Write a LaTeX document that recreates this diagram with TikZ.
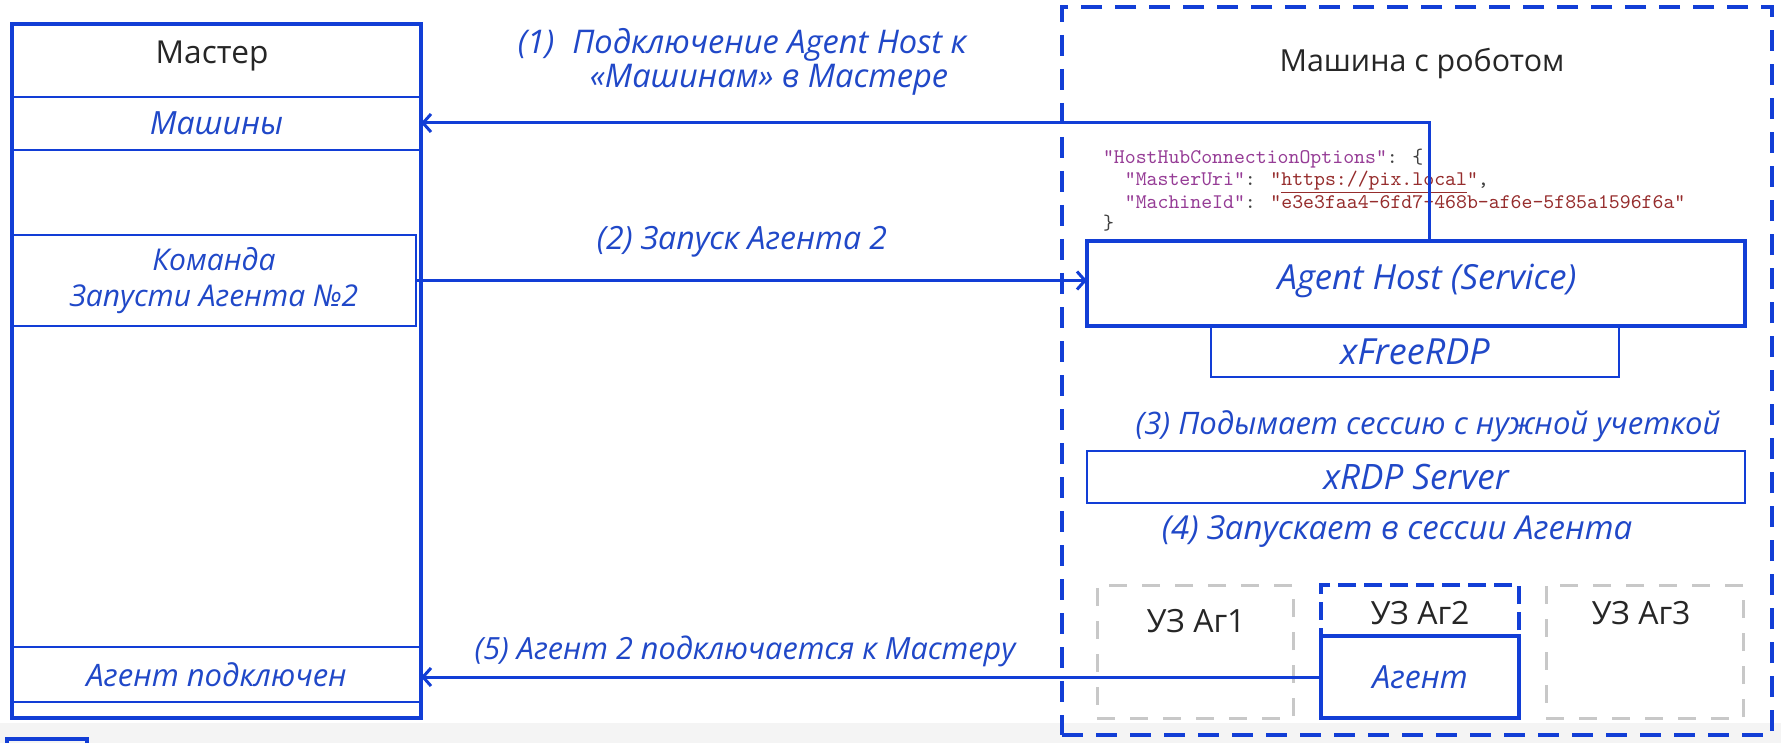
\documentclass[tikz,border=0pt]{standalone}
\usepackage{fontspec}
\setmainfont{Open Sans}
\usetikzlibrary{arrows.meta}
\definecolor{mblue}{RGB}{18,62,214}
\definecolor{tblue}{RGB}{32,72,200}
\definecolor{lgray}{RGB}{200,200,200}
\definecolor{jkey}{RGB}{150,60,150}
\definecolor{jval}{RGB}{150,45,45}
\definecolor{stripc}{RGB}{244,244,244}
\newcommand\fsz[1]{\fontsize{#1}{1.2\dimexpr#1pt\relax}\selectfont}
\tikzset{
 thickbox/.style={draw=mblue, line width=1.8pt},
 thinbox/.style={draw=mblue, line width=0.75pt},
 gdash/.style={draw=lgray, line width=1.5pt, dash pattern=on 9pt off 7.5pt},
 bdash/.style={draw=mblue, line width=1.8pt, dash pattern=on 10.5pt off 6.5pt},
 sdash/.style={draw=mblue, line width=2pt, dash pattern=on 9pt off 4pt},
 lbl/.style={text=tblue, font=\fsz{15.5}\itshape},
 blk/.style={text=black!85, font=\fsz{15.5}},
 conn/.style={draw=mblue, line width=1.5pt, -{Straight Barb[length=4pt,width=9pt,line width=1.5pt]}},
}
\begin{document}
\begin{tikzpicture}[x=0.5pt,y=-0.5pt, every node/.style={inner sep=0pt, outer sep=0pt}]
\useasboundingbox (0,0) rectangle (1781,743);
\fill[white] (0,0) rectangle (1781,743);
\fill[stripc] (0,723) rectangle (1781,743);
\draw[mblue, line width=1.8pt] (7,745) -- (7,739) -- (87,739) -- (87,745);

% Master
\node[thinbox, lbl, font=\fsz{16}\itshape, minimum width=204.5pt, minimum height=26.5pt] (mash) at (216.5,123.5) {Машины};
\node[thinbox, lbl, font=\fsz{15}\itshape, align=center, minimum width=202pt, minimum height=45.5pt] (kom) at (214,280.5) {Команда\\Запусти Агента №2};
\node[thinbox, lbl, minimum width=204.5pt, minimum height=27.5pt] (conn5) at (216.5,674.5) {Агент подключен};
\node[thickbox, minimum width=204.5pt, minimum height=347pt] (master) at (216.5,371) {};
\node[blk, font=\fsz{15.8}] (mtitle) at (212,56) {Мастер};

% Robot machine
\node[bdash, minimum width=355pt, minimum height=364pt] (robot) at (1417,371) {};
\node[blk, font=\fsz{15.2}] (rtitle) at (1422,64) {Машина с роботом};
\node[anchor=west, align=left, font=\fontsize{10.4}{10.6}\selectfont\ttfamily, text=black!75] (json) at (1103,190.5) {\textcolor{jkey}{"HostHubConnectionOptions"}: \{\\
\phantom{xx}\textcolor{jkey}{"MasterUri"}: \textcolor{jval}{"\underline{https://pix.local}"},\\
\phantom{xx}\textcolor{jkey}{"MachineId"}: \textcolor{jval}{"e3e3faa4-6fd7-468b-af6e-5f85a1596f6a"}\\
\}};
\node[thickbox, minimum width=329pt, minimum height=42.5pt] (ah) at (1416,283.5) {};
\node[lbl, font=\fsz{17.3}\itshape] (aht) at (1427,281) {Agent Host (Service)};
\node[thinbox, lbl, font=\fsz{18}\itshape, minimum width=204pt, minimum height=25.5pt] (xfree) at (1415,351.5) {xFreeRDP};
\node[lbl] (l3) at (1428,426) {(3) Подымает сессию с нужной учеткой};
\node[thinbox, lbl, font=\fsz{17.5}\itshape, minimum width=329pt, minimum height=26pt] (xrdp) at (1416,477) {xRDP Server};
\node[lbl, font=\fsz{16.5}\itshape] (l4) at (1397,532) {(4) Запускает в сессии Агента};

\node[gdash, minimum width=98pt, minimum height=66.5pt] (uz1) at (1195,651.5) {};
\node[blk, font=\fsz{16}] (uz1t) at (1196,621) {УЗ Аг1};
\node[gdash, minimum width=98.5pt, minimum height=66.5pt] (uz3) at (1644.5,651.5) {};
\node[blk, font=\fsz{16}] (uz3t) at (1641,613) {УЗ Аг3};
\node[sdash, minimum width=99pt, minimum height=66.5pt] (uz2) at (1420,651.5) {};
\node[blk, font=\fsz{16}] (uz2t) at (1420,613) {УЗ Аг2};
\node[thickbox, fill=white, lbl, font=\fsz{16}\itshape, minimum width=99pt, minimum height=41pt] (agent) at (1420,677) {Агент};

% labels
\node[lbl, font=\fsz{16.3}\itshape] (l1a) at (742,45) {(1)\hspace{9pt}Подключение Agent Host к};
\node[lbl, font=\fsz{16.3}\itshape] (l1b) at (769,80) {«Машинам» в Мастере};
\node[lbl, font=\fsz{16}\itshape] (l2) at (742,242) {(2) Запуск Агента 2};
\node[lbl, font=\fsz{15.3}\itshape] (l5) at (745,651) {(5) Агент 2 подключается к Мастеру};

% connectors
\coordinate (c1) at (1429,123);
\draw[conn] (ah.north -| c1) -- (c1) -- (c1 -| master.east);
\draw[conn] (kom.east) -- (kom.east -| ah.west);
\draw[conn] (agent.west) -- (agent.west -| master.east);
\end{tikzpicture}
\end{document}
